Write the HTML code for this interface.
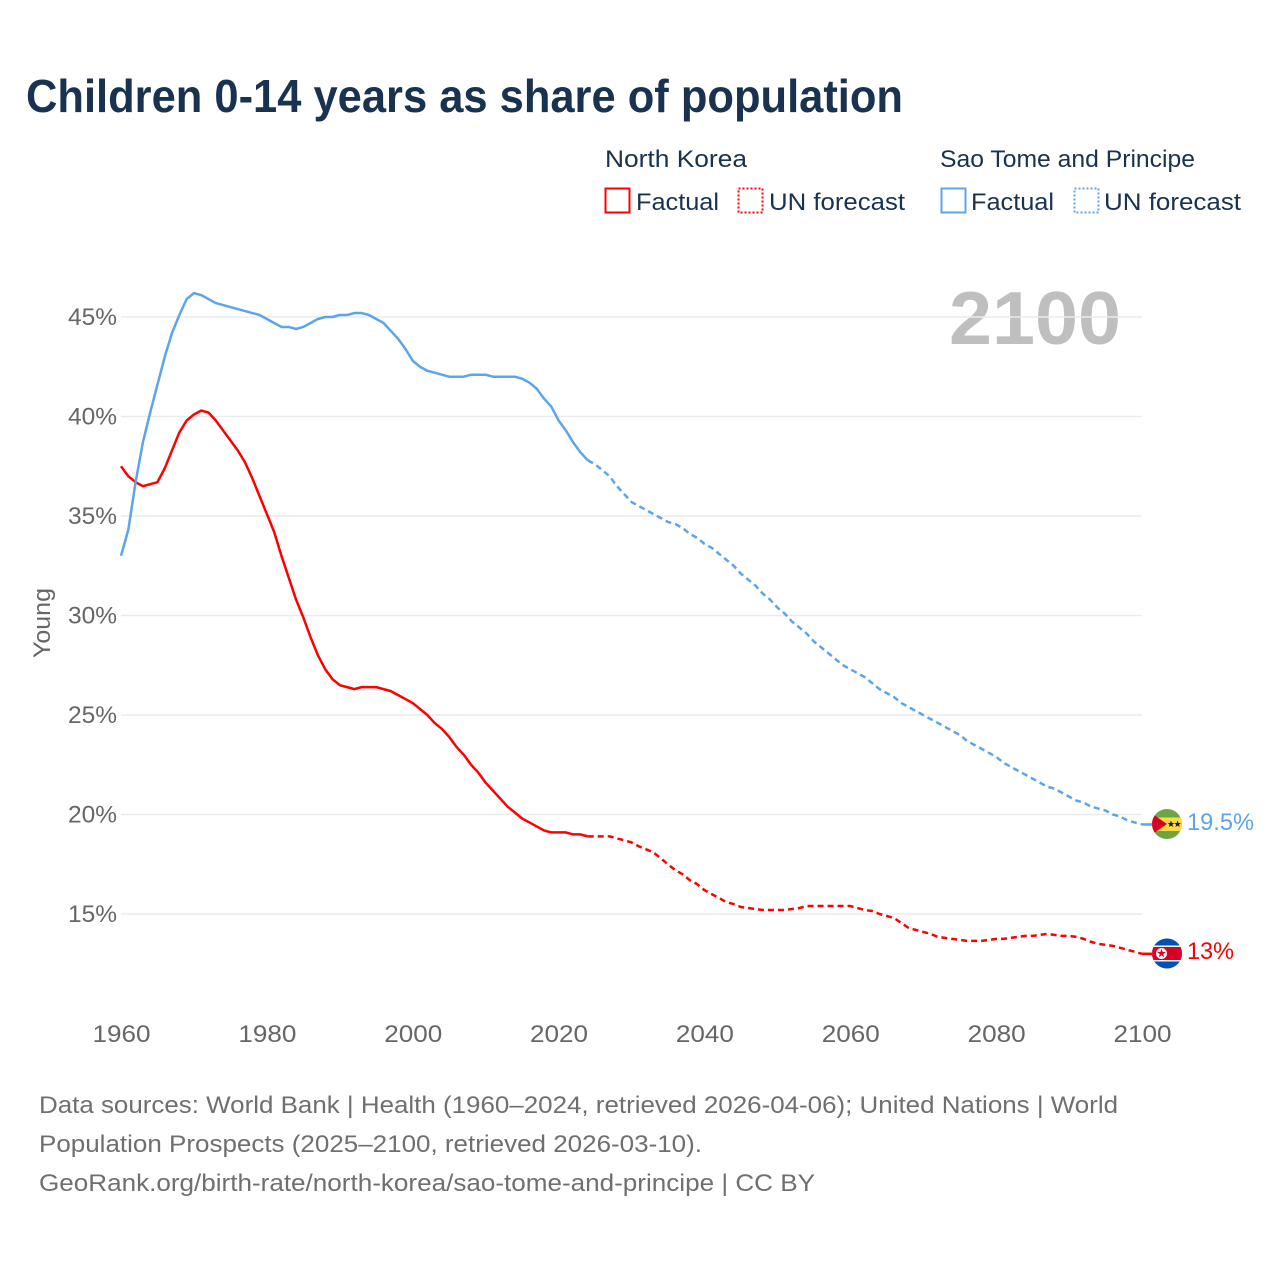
<!DOCTYPE html>
<html lang="en">
<head>
<meta charset="utf-8">
<title>Children 0-14 years as share of population</title>
<style>
html,body{margin:0;padding:0;background:#fff;width:1280px;height:1280px;overflow:hidden}
svg{display:block;font-family:"Liberation Sans",sans-serif}
.lg{font-size:24px;fill:#18324f}
.src{font-size:24px;fill:#6f6f6f}
.tick{font-size:24px;fill:#666}
</style>
</head>
<body>
<svg id="chart" width="1280" height="1280" viewBox="0 0 1280 1280" xmlns="http://www.w3.org/2000/svg">
  <defs>
    <clipPath id="flag-clip-st"><circle cx="1167" cy="824" r="15"/></clipPath>
    <clipPath id="flag-clip-kp"><circle cx="1167" cy="953.5" r="15"/></clipPath>
  </defs>
  <text x="26" y="112" font-size="46" font-weight="700" fill="#18324f" textLength="877" lengthAdjust="spacingAndGlyphs">Children 0-14 years as share of population</text>

  <g>
    <text class="lg" x="605" y="167" textLength="142" lengthAdjust="spacingAndGlyphs">North Korea</text>
    <rect x="605.5" y="188.5" width="24" height="24" fill="none" stroke="#ff0000" stroke-width="2"/>
    <text class="lg" x="636" y="210" textLength="83" lengthAdjust="spacingAndGlyphs">Factual</text>
    <rect x="738.5" y="188.5" width="24" height="24" fill="none" stroke="#ff0000" stroke-width="2" stroke-dasharray="2,2"/>
    <text class="lg" x="769" y="210" textLength="136" lengthAdjust="spacingAndGlyphs">UN forecast</text>

    <text class="lg" x="940" y="167" textLength="255" lengthAdjust="spacingAndGlyphs">Sao Tome and Principe</text>
    <rect x="941.5" y="188.5" width="24" height="24" fill="none" stroke="#5ca4ec" stroke-width="2"/>
    <text class="lg" x="971" y="210" textLength="83" lengthAdjust="spacingAndGlyphs">Factual</text>
    <rect x="1074.5" y="188.5" width="24" height="24" fill="none" stroke="#5ca4ec" stroke-width="2" stroke-dasharray="2,2"/>
    <text class="lg" x="1104" y="210" textLength="137" lengthAdjust="spacingAndGlyphs">UN forecast</text>
  </g>

  <text x="949" y="344" font-size="75" font-weight="700" fill="#bfbfbf" textLength="172" lengthAdjust="spacingAndGlyphs">2100</text>
  <text transform="translate(50,658) rotate(-90)" font-size="24" fill="#666" textLength="70" lengthAdjust="spacingAndGlyphs">Young</text>

  <g id="grid"></g>
  <g id="yticks"></g>
  <g id="xticks"></g>
  <g id="series"></g>

  <g clip-path="url(#flag-clip-st)">
    <rect x="1152" y="809" width="30" height="30" fill="#6da544"/>
    <rect x="1152" y="817.5" width="30" height="13.5" fill="#ffda44"/>
    <polygon points="1147,810 1167,824 1147,838" fill="#d80027"/>
    <polygon points="1171,820.5 1171.9,823 1174.4,823 1172.4,824.6 1173.1,827 1171,825.6 1168.9,827 1169.6,824.6 1167.6,823 1170.1,823" fill="#1a1a1a"/>
    <polygon points="1177.6,820.5 1178.5,823 1181,823 1179,824.6 1179.7,827 1177.6,825.6 1175.5,827 1176.2,824.6 1174.2,823 1176.7,823" fill="#1a1a1a"/>
  </g>
  <g clip-path="url(#flag-clip-kp)">
    <rect x="1152" y="938" width="30" height="31" fill="#0052b4"/>
    <rect x="1152" y="945.5" width="30" height="16" fill="#f5f5f5"/>
    <rect x="1152" y="947" width="30" height="13" fill="#d80027"/>
    <circle cx="1161.5" cy="953.5" r="5.5" fill="#f5f5f5"/>
    <polygon points="1161.5,948.8 1162.6,952 1165.9,952 1163.2,954 1164.2,957.2 1161.5,955.3 1158.8,957.2 1159.8,954 1157.1,952 1160.4,952" fill="#d80027"/>
  </g>

  <text id="end-label-st" x="1187" y="830" font-size="24" fill="#5ca4ec" textLength="67" lengthAdjust="spacingAndGlyphs">19.5%</text>
  <text id="end-label-kp" x="1187" y="959" font-size="24" fill="#ff0000" textLength="47" lengthAdjust="spacingAndGlyphs">13%</text>

  <g>
    <text class="src" x="39" y="1113" textLength="1079" lengthAdjust="spacingAndGlyphs">Data sources: World Bank | Health (1960–2024, retrieved 2026-04-06); United Nations | World</text>
    <text class="src" x="39" y="1152" textLength="663" lengthAdjust="spacingAndGlyphs">Population Prospects (2025–2100, retrieved 2026-03-10).</text>
    <text class="src" x="39" y="1191" textLength="776" lengthAdjust="spacingAndGlyphs">GeoRank.org/birth-rate/north-korea/sao-tome-and-principe | CC BY</text>
  </g>
</svg>
<script>
const yTickValues = [15, 20, 25, 30, 35, 40, 45];
const xTickValues = [1960, 1980, 2000, 2020, 2040, 2060, 2080, 2100];
const factualStartYear = 1960;
const forecastStartYear = 2024;
const northKoreaFactual = [37.5,37.0,36.7,36.5,36.6,36.7,37.4,38.3,39.2,39.8,40.1,40.3,40.2,39.8,39.3,38.8,38.3,37.7,36.9,36.0,35.1,34.2,33.0,31.9,30.8,29.9,28.9,28.0,27.3,26.8,26.5,26.4,26.3,26.4,26.4,26.4,26.3,26.2,26.0,25.8,25.6,25.3,25.0,24.6,24.3,23.9,23.4,23.0,22.5,22.1,21.6,21.2,20.8,20.4,20.1,19.8,19.6,19.4,19.2,19.1,19.1,19.1,19.0,19.0,18.9];
const northKoreaForecast = [18.9,18.9,18.9,18.9,18.8,18.7,18.6,18.4,18.25,18.1,17.8,17.5,17.2,17.0,16.7,16.5,16.2,16.0,15.8,15.6,15.5,15.35,15.3,15.25,15.2,15.2,15.2,15.2,15.25,15.3,15.4,15.4,15.4,15.4,15.4,15.4,15.4,15.3,15.2,15.15,15.0,14.9,14.8,14.55,14.3,14.2,14.1,14.0,13.85,13.8,13.75,13.7,13.65,13.65,13.65,13.7,13.75,13.75,13.8,13.85,13.9,13.9,13.95,14.0,13.95,13.9,13.9,13.85,13.75,13.6,13.5,13.45,13.4,13.3,13.2,13.1,13.0];
const saoTomeFactual = [33.0,34.3,36.7,38.7,40.2,41.6,43.0,44.2,45.1,45.9,46.2,46.1,45.9,45.7,45.6,45.5,45.4,45.3,45.2,45.1,44.9,44.7,44.5,44.5,44.4,44.5,44.7,44.9,45.0,45.0,45.1,45.1,45.2,45.2,45.1,44.9,44.7,44.3,43.9,43.4,42.8,42.5,42.3,42.2,42.1,42.0,42.0,42.0,42.1,42.1,42.1,42.0,42.0,42.0,42.0,41.9,41.7,41.4,40.9,40.5,39.8,39.3,38.7,38.2,37.8];
const saoTomeForecast = [37.8,37.6,37.3,37.0,36.5,36.1,35.7,35.5,35.3,35.1,34.9,34.7,34.6,34.4,34.1,33.9,33.6,33.4,33.1,32.8,32.5,32.1,31.8,31.5,31.1,30.8,30.4,30.1,29.7,29.4,29.1,28.7,28.4,28.1,27.8,27.5,27.3,27.1,26.9,26.6,26.3,26.1,25.9,25.6,25.4,25.2,25.0,24.8,24.6,24.4,24.2,24.0,23.7,23.5,23.3,23.1,22.9,22.6,22.4,22.2,22.0,21.8,21.6,21.4,21.3,21.1,20.9,20.7,20.6,20.4,20.3,20.2,20.0,19.9,19.7,19.6,19.5];

const SVG_NS = 'http://www.w3.org/2000/svg';
const plotLeft = 121, plotRight = 1142, y45 = 317, y15 = 914, tailEnd = 1153;
function xScale(year) { return plotLeft + (year - 1960) * (plotRight - plotLeft) / 140; }
function yScale(v) { return y45 + (45 - v) * (y15 - y45) / 30; }
function make(tag, parent, attrs) {
  const el = document.createElementNS(SVG_NS, tag);
  for (const k in attrs) el.setAttribute(k, attrs[k]);
  parent.appendChild(el);
  return el;
}
const grid = document.getElementById('grid');
const yticks = document.getElementById('yticks');
yTickValues.forEach(function (v) {
  const line = make('line', grid, { x1: plotLeft, x2: plotRight, y1: yScale(v), y2: yScale(v), stroke: '#ebebeb', 'stroke-width': 1.5 });
  
  
  const t = make('text', yticks, { class: 'tick', x: 117, y: yScale(v) + 8, 'text-anchor': 'end', textLength: 49, lengthAdjust: 'spacingAndGlyphs' });
  t.textContent = v + '%';
  
  
});
const xticks = document.getElementById('xticks');
xTickValues.forEach(function (yr) {
  const t = make('text', xticks, { class: 'tick', x: xScale(yr) - 28.5, y: 1042, textLength: 58, lengthAdjust: 'spacingAndGlyphs' });
  t.textContent = yr;
  
  
});
function linePath(values, startYear) {
  return values.map(function (v, i) {
    return (i ? 'L' : 'M') + xScale(startYear + i).toFixed(2) + ' ' + yScale(v).toFixed(2);
  }).join(' ');
}
const series = document.getElementById('series');
function drawSeries(slug, color, factual, forecast) {
  const a = make('path', series, { d: linePath(factual, factualStartYear), fill: 'none', stroke: color, 'stroke-width': 2.5, 'stroke-linejoin': 'round' });
  
  
  const last = forecast[forecast.length - 1];
  const b = make('path', series, { d: linePath(forecast, forecastStartYear), fill: 'none', stroke: color, 'stroke-width': 2.5, 'stroke-dasharray': '6,4', 'stroke-linejoin': 'round' });
  
  
  const c = make('line', series, { x1: xScale(2100), x2: tailEnd, y1: yScale(last), y2: yScale(last), stroke: color, 'stroke-width': 2.5 });
  
  
}
drawSeries('north-korea', '#ff0000', northKoreaFactual, northKoreaForecast);
drawSeries('sao-tome', '#5ca4ec', saoTomeFactual, saoTomeForecast);
</script>
</body>
</html>
